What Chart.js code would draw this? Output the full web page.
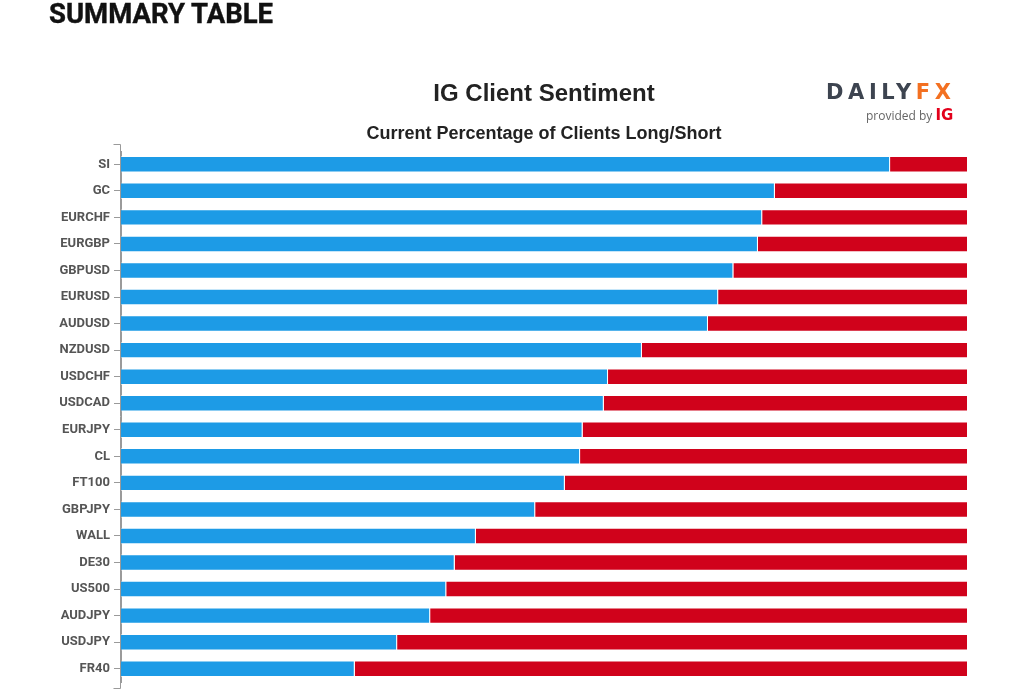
<!DOCTYPE html>
<html>
<head>
<meta charset="utf-8">
<script src="https://cdn.jsdelivr.net/npm/chart.js@4"></script>
<style>
    body { margin: 0; background: #fff; }
    #wrap { position: relative; width: 1024px; height: 700px; overflow: hidden; }
    #chart { position: absolute; left: 0; top: 0; }
    .abs { position: absolute; white-space: nowrap; }
    #heading { left: 49px; top: -3px; font: bold 27.5px Roboto, sans-serif; color: #111; -webkit-text-stroke: 0.4px #111; }
    #title { left: 0; width: 1088px; text-align: center; top: 79px; font: bold 24px "Liberation Sans", Arial, sans-serif; color: #222; }
    #subtitle { left: 0; width: 1088px; text-align: center; top: 123px; font: bold 18px "Liberation Sans", Arial, sans-serif; color: #222; }
    #logo { left: 826px; top: 80px; font: bold 21px "DejaVu Sans", sans-serif; letter-spacing: 4.6px; color: #3d4450; }
    #logo span { color: #f37021; }
    #provided { left: 866px; top: 106px; font: 12px "Open Sans", sans-serif; color: #666; }
    #provided b { color: #e3001b; font: bold 15px "DejaVu Sans", sans-serif; }
</style>
</head>
<body>
<div id="wrap">
    <canvas id="chart" width="1024" height="700"></canvas>
    <div id="heading" class="abs">SUMMARY TABLE</div>
    <div id="title" class="abs">IG Client Sentiment</div>
    <div id="subtitle" class="abs">Current Percentage of Clients Long/Short</div>
    <div id="logo" class="abs">DAILY<span>FX</span></div>
    <div id="provided" class="abs">provided by <b>IG</b></div>
</div>
<script>
const SYMBOLS = ['SI', 'GC', 'EURCHF', 'EURGBP', 'GBPUSD', 'EURUSD', 'AUDUSD', 'NZDUSD', 'USDCHF', 'USDCAD',
    'EURJPY', 'CL', 'FT100', 'GBPJPY', 'WALL', 'DE30', 'US500', 'AUDJPY', 'USDJPY', 'FR40'];
const LONG_PCT = [90.8, 77.2, 75.7, 75.2, 72.3, 70.5, 69.3, 61.5, 57.5, 57.0,
    54.5, 54.2, 52.4, 48.9, 41.9, 39.4, 38.4, 36.5, 32.6, 27.6];
const SHORT_PCT = LONG_PCT.map(v => +(100 - v).toFixed(1));

const BLUE = '#1d9be6';
const RED = '#d0021b';
const AXIS = '#9a9a9a';

// the axis line runs a bit past the categories, with stubs at both ends
const axisEnds = {
    id: 'axisEnds',
    afterDraw(chart) {
        const { ctx, chartArea } = chart;
        const top = chartArea.top - 6.5, bottom = chartArea.bottom + 6.5, x = chartArea.left - 0.5;
        ctx.save();
        ctx.strokeStyle = AXIS;
        ctx.lineWidth = 1;
        ctx.beginPath();
        ctx.moveTo(x, top);
        ctx.lineTo(x, bottom);
        ctx.moveTo(x - 7, top);
        ctx.lineTo(x, top);
        ctx.moveTo(x - 7, bottom);
        ctx.lineTo(x, bottom);
        ctx.stroke();
        ctx.restore();
    }
};

new Chart(document.getElementById('chart'), {
    type: 'bar',
    data: {
        labels: SYMBOLS,
        datasets: [
            { label: 'Long', data: LONG_PCT, backgroundColor: BLUE, borderColor: 'rgba(255,255,255,0.5)', borderWidth: 1, barPercentage: 0.62, categoryPercentage: 1 },
            { label: 'Short', data: SHORT_PCT, backgroundColor: RED, borderColor: 'rgba(255,255,255,0.5)', borderWidth: 1, barPercentage: 0.62, categoryPercentage: 1 }
        ]
    },
    options: {
        indexAxis: 'y',
        responsive: false,
        animation: false,
        layout: { padding: { top: 151, right: 56, bottom: 18, left: 0 } },
        plugins: { legend: { display: false }, tooltip: { enabled: false } },
        scales: {
            x: { stacked: true, min: 0, max: 100, display: false },
            y: {
                stacked: true,
                afterFit: (scale) => { scale.width = 121; },
                border: { display: true, color: AXIS },
                grid: { display: true, drawOnChartArea: false, offset: false, tickLength: 7, color: AXIS },
                ticks: { color: '#555', padding: 4, font: { family: 'Roboto', weight: 'bold', size: 13 } }
            }
        }
    },
    plugins: [axisEnds]
});
</script>
</body>
</html>
